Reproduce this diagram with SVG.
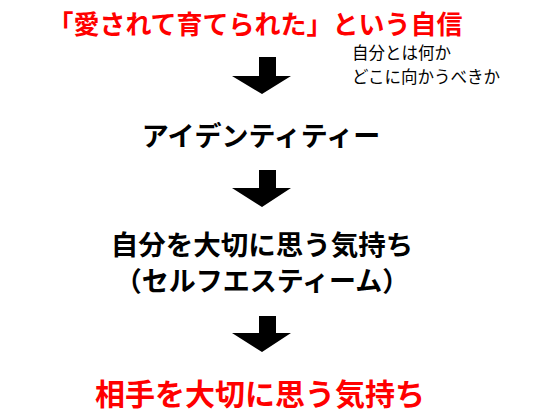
<svg xmlns="http://www.w3.org/2000/svg" width="550" height="413" viewBox="0 0 550 413">
<style>
text{font-family:"Noto Sans CJK JP","Noto Sans CJK SC",sans-serif;}
.b{font-weight:bold;text-anchor:middle;}
.red{fill:#ff0000;}
.blk{fill:#000;}
.arr{fill:#000;}
.note{font-size:16.5px;fill:#000;}
</style>
<rect width="550" height="413" fill="#fff"/>
<g id="node-jishin"><text class="b red" x="255" y="34" font-size="26">「愛されて育てられた」という自信</text></g>
<g id="node-note"><text class="note" x="352" y="59">自分とは何か</text><text class="note" x="352" y="83">どこに向かうべきか</text></g>
<g id="node-identity"><text class="b blk" x="261" y="146" font-size="27">アイデンティティー</text></g>
<g id="node-self"><text class="b blk" x="262" y="255" font-size="27.5">自分を大切に思う気持ち</text><text class="b blk" x="262" y="291" font-size="27">（セルフエスティーム）</text></g>
<g id="node-other"><text class="b red" x="260" y="405" font-size="30">相手を大切に思う気持ち</text></g>
<g id="connectors">
<polygon class="arr" points="259,57 276,57 276,76 291,76 262,94 232,76 259,76"/>
<polygon class="arr" points="259,170 276,170 276,188 291,188 262,207 232,188 259,188"/>
<polygon class="arr" points="259,316 276,316 276,333 291,333 262,352 232,333 259,333"/>
</g>
</svg>
